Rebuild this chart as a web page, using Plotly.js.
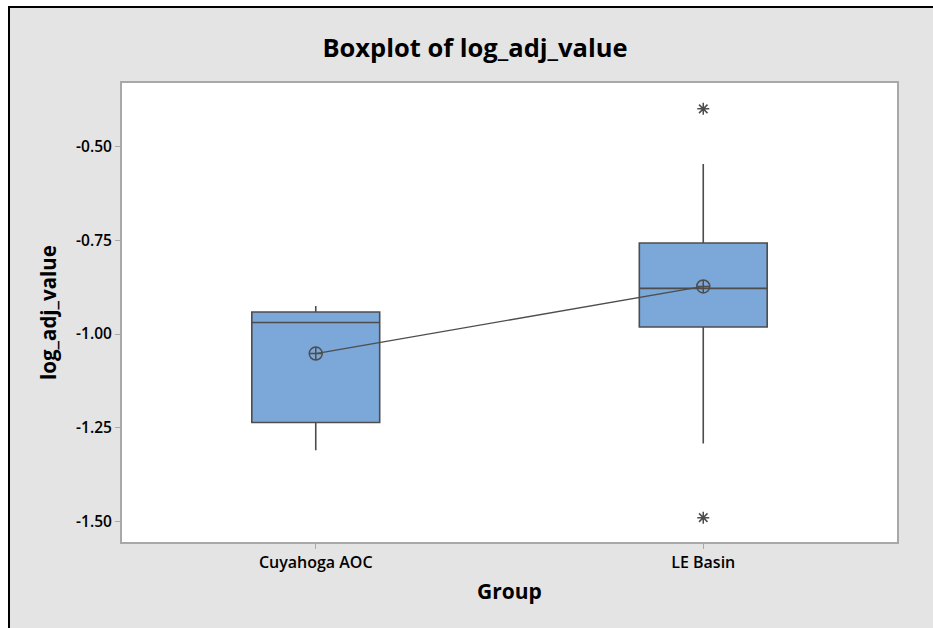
<!DOCTYPE html>
<html>
<head>
<meta charset="utf-8">
<script src="https://cdn.plot.ly/plotly-3.0.1.min.js"></script>
<style>
  html, body { margin: 0; padding: 0; background: #ffffff; width: 933px; height: 628px; overflow: hidden; }
  #chart { position: absolute; left: 8px; top: 6px; width: 923px; height: 620px;
           border-left: 2px solid #000; border-top: 2px solid #000; }
</style>
</head>
<body>
<div id="chart"></div>
<script>
// ---- data ----
const groups = ["Cuyahoga AOC", "LE Basin"];
const q1 = [-1.236, -0.981];
const medians = [-0.969, -0.878];
const q3 = [-0.941, -0.757];
const lowerWhisker = [-1.310, -1.292];
const upperWhisker = [-0.925, -0.546];
const means = [-1.052, -0.873];
const outlierGroups = ["LE Basin", "LE Basin"];
const outlierValues = [-0.399, -1.490];
const yTicks = [-1.50, -1.25, -1.00, -0.75, -0.50];

const dark = "#4d4d4d";
const fontFam = "'Open Sans', 'Noto Sans', sans-serif";

const traces = [
  {
    type: "box",
    x: groups,
    q1: q1, median: medians, q3: q3,
    lowerfence: lowerWhisker, upperfence: upperWhisker,
    width: 0.33,
    fillcolor: "#7ba7d9",
    line: { color: dark, width: 1.6 },
    whiskerwidth: 0,
    hoverinfo: "skip",
    showlegend: false
  },
  {
    type: "scatter",
    mode: "lines+markers",
    x: groups, y: means,
    line: { color: dark, width: 1.3 },
    marker: { symbol: "circle-cross-open", size: 13, color: dark, line: { width: 1.5, color: dark } },
    showlegend: false
  },
  {
    type: "scatter",
    mode: "markers",
    x: outlierGroups, y: outlierValues,
    marker: { symbol: "asterisk-open", size: 10, color: dark, line: { width: 1.5, color: dark } },
    showlegend: false
  }
];

const layout = {
  width: 923, height: 620,
  paper_bgcolor: "#e4e4e4",
  plot_bgcolor: "#ffffff",
  margin: { l: 112, r: 36, t: 75, b: 86 },
  font: { family: fontFam, color: "#000" },
  title: {
    text: "<b>Boxplot of log_adj_value</b>",
    font: { size: 25.5, family: fontFam, color: "#000" },
    x: (475 - 10) / 923, xref: "container", xanchor: "center",
    y: 1 - 40 / 620, yref: "container", yanchor: "middle"
  },
  xaxis: {
    type: "category",
    range: [-0.5, 1.5],
    showline: true, mirror: true, linecolor: "#a8a8a8", linewidth: 2,
    showgrid: false, zeroline: false,
    ticks: "outside", ticklen: 5, tickcolor: "#a8a8a8", tickwidth: 1,
    tickfont: { size: 16, family: fontFam, color: "#000", weight: 600 },
    title: { text: "<b>Group</b>", font: { size: 21, family: fontFam, color: "#000" }, standoff: 12 }
  },
  yaxis: {
    range: [-1.555, -0.330],
    tickvals: yTicks,
    ticktext: yTicks.map(v => v.toFixed(2)),
    showline: true, mirror: true, linecolor: "#a8a8a8", linewidth: 2,
    showgrid: false, zeroline: false,
    ticks: "outside", ticklen: 5, tickcolor: "#a8a8a8", tickwidth: 1,
    tickfont: { size: 15.5, family: fontFam, color: "#000", weight: 600 },
    title: { text: "<b>log_adj_value</b>", font: { size: 20.5, family: fontFam, color: "#000" }, standoff: 14 }
  }
};

Plotly.newPlot("chart", traces, layout, { displayModeBar: false, staticPlot: true });
</script>
</body>
</html>
